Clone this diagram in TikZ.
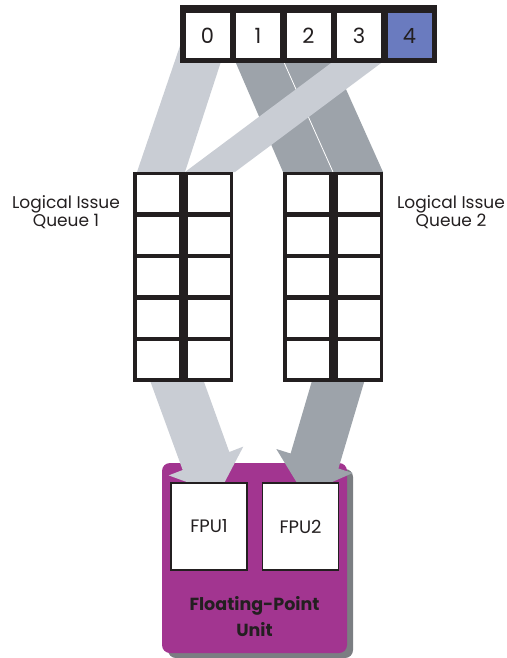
\documentclass[tikz,border=0pt]{standalone}
\usepackage{fontspec}
\setmainfont{Poppins}
\definecolor{lightband}{HTML}{C9CDD4}
\definecolor{darkband}{HTML}{9DA3AA}
\definecolor{fpupurple}{HTML}{A23590}
\definecolor{cellblue}{HTML}{6A7BBF}
\definecolor{shadowgray}{HTML}{7B7E82}
\definecolor{ink}{HTML}{231F20}
\begin{document}
\begin{tikzpicture}[x=1pt,y=-1pt,
  bar/.style={fill=ink, draw=none},
  topcell/.style={fill=white, draw=none, minimum width=44pt, minimum height=45pt, inner sep=0pt, text=ink, font=\fontsize{21}{24}\selectfont},
  qcell/.style={fill=white, draw=none, minimum width=41.5pt, minimum height=37pt, inner sep=0pt},
  label/.style={align=center, text=ink, font=\fontsize{17}{15.5}\selectfont},
  fpubox/.style={fill=white, draw=ink, line width=1.3pt, minimum width=76pt, minimum height=87pt, inner sep=0pt, text=ink, font=\fontsize{18}{20}\selectfont}
]
\useasboundingbox (0,0) rectangle (506,658);

% upper bands
\fill[lightband] (182,40) -- (228,40) -- (185,172) -- (137,172) -- cycle;
\fill[darkband] (226,40) -- (274,40) -- (333,172) -- (283,172) -- cycle;
\fill[darkband] (274,40) -- (324,40) -- (383,172) -- (333,172) -- cycle;
\draw[white, line width=0.8pt] (274,40) -- (333,172);
\fill[lightband] (362,40) -- (412,40) -- (235,172) -- (185,172) -- cycle;

% top register bar
\fill[bar] (180,5) rectangle (437,63);
\node[topcell] (t0) at (207.5,35.5) {0};
\node[topcell] (t1) at (258,35.5) {1};
\node[topcell] (t2) at (308.5,35.5) {2};
\node[topcell] (t3) at (359,35.5) {3};
\node[topcell, fill=cellblue] (t4) at (409.5,35.5) {4};

% FPU unit
\fill[shadowgray, rounded corners=8pt] (168,469) rectangle (353,658);
\fill[fpupurple, rounded corners=8pt] (162,463) rectangle (347,653);

% lower arrows
\fill[lightband] (148,375) -- (201.5,375) -- (229.3,452) -- (243.3,446.6) -- (218.6,493.7) -- (168.7,475.4) -- (182.7,470) -- cycle;
\fill[darkband] (313.7,375) -- (366.2,375) -- (338.4,468.5) -- (352.7,473) -- (304,494.4) -- (276.3,449) -- (290.6,453.5) -- cycle;

% queues
\fill[bar] (133,172) rectangle (233,382);
\fill[bar] (283,172) rectangle (383,382);
\foreach \r [count=\i] in {193.5,235,276.5,318,359.5} {
  \node[qcell] (qa\i) at (157.75,\r) {};
  \node[qcell] (qb\i) at (209,\r) {};
  \node[qcell] (qc\i) at (307.75,\r) {};
  \node[qcell] (qd\i) at (359,\r) {};
}

\node[label] (lab1) at (66,212) {Logical Issue\\Queue 1};
\node[label] (lab2) at (451,212) {Logical Issue\\Queue 2};

\node[fpubox] (f1) at (209,526.5) {FPU1};
\node[fpubox] (f2) at (300.5,526.5) {FPU2};
\node[align=center, text=ink, font=\fontsize{17.5}{26}\selectfont\bfseries] (fpu) at (254.5,617) {Floating-Point\\Unit};
\end{tikzpicture}
\end{document}
